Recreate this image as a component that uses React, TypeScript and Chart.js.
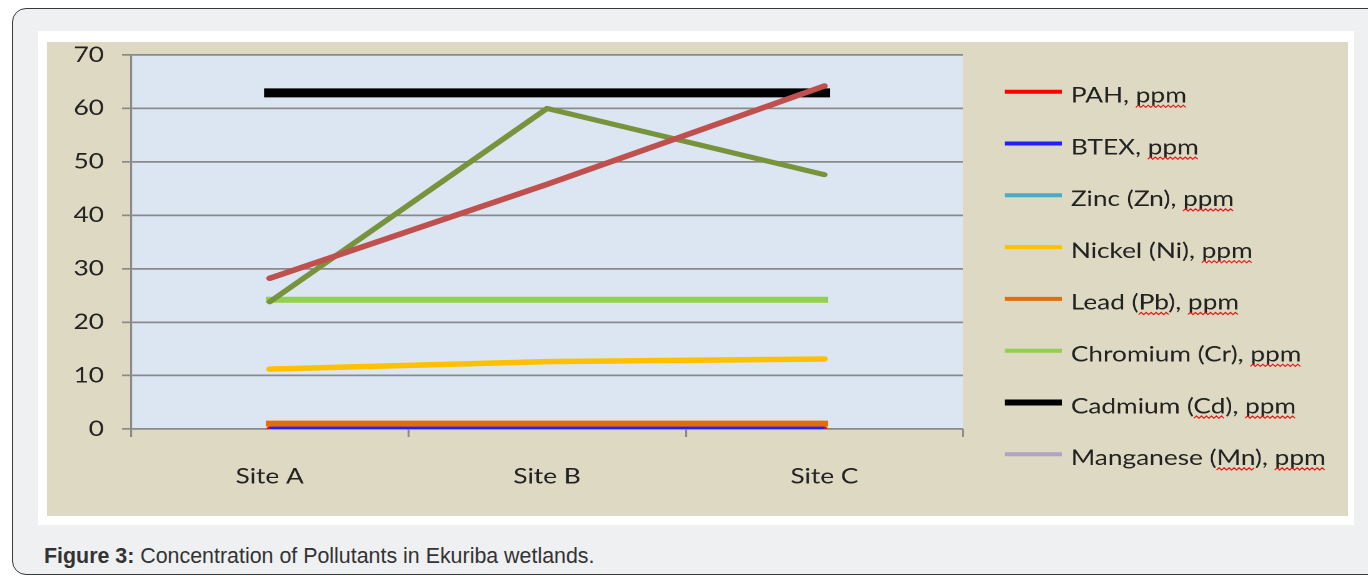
import React, { useEffect, useRef } from 'react';
import { Chart, registerables } from 'chart.js';

Chart.register(...registerables);

// ---------- data ----------
const categories = ['Site A', 'Site B', 'Site C'];
const seriesNames = [
  'PAH, ppm',
  'BTEX, ppm',
  'Zinc (Zn), ppm',
  'Nickel (Ni), ppm',
  'Lead (Pb), ppm',
  'Chromium (Cr), ppm',
  'Cadmium (Cd), ppm',
  'Manganese (Mn), ppm',
];
const pahValues = [0, 0, 0];
const btexValues = [0, 0, 0];
const zincValues = [0, 0, 0];
const nickelValues = [11.2, 12.6, 13.1];
const leadValues = [1.0, 1.0, 1.0];
const chromiumValues = [24.2, 24.2, 24.2];
const cadmiumValues = [62.9, 62.9, 62.9];
const manganeseValues = [0, 0, 0];
// two further series drawn in the plot but not listed in the visible legend
const unlistedSeriesRed = [28.2, 45.8, 64.2];
const unlistedSeriesOlive = [23.8, 60.0, 47.6];

const Y_MIN = 0;
const Y_MAX = 70;
const Y_STEP = 10;

// words flagged by the spell checker in the legend
const spellFlagged = [
  ['ppm'],
  ['ppm'],
  ['ppm'],
  ['ppm'],
  ['Pb', 'ppm'],
  ['ppm'],
  ['Cd', 'ppm'],
  ['Mn', 'ppm'],
];

// ---------- styles ----------
const SX = 1.25; // horizontal stretch of the picture
const BOX_W = 1301;
const BOX_H = 474;
const LOGICAL_W = Math.round(BOX_W / SX);
const FONT = 'Lato';
const FONT_SIZE = 21;
const TXT = '#222222';
const GRID = '#8a8a8a';

const seriesStyles = [
  { color: '#ff0000', width: 5, order: 9, cap: 'round' },
  { color: '#2020ff', width: 5, order: 7, cap: 'butt' },
  { color: '#4bacc6', width: 5, order: 8, cap: 'butt' },
  { color: '#ffc000', width: 5.5, order: 5, cap: 'round' },
  { color: '#e46c0a', width: 6, order: 6, cap: 'square' },
  { color: '#92d050', width: 6, order: 4, cap: 'square' },
  { color: '#000000', width: 9, order: 3, cap: 'square' },
  { color: '#b3a2c7', width: 5, order: 8, cap: 'butt' },
  { color: '#c0504d', width: 5.5, order: 1, cap: 'round' },
  { color: '#77933c', width: 5, order: 2, cap: 'round' },
];

const allValues = [
  pahValues,
  btexValues,
  zincValues,
  nickelValues,
  leadValues,
  chromiumValues,
  cadmiumValues,
  manganeseValues,
  unlistedSeriesRed,
  unlistedSeriesOlive,
];

const chartAreaBg = {
  id: 'chartAreaBg',
  beforeDraw(chart: any) {
    const { ctx, chartArea: a, width, height } = chart;
    ctx.save();
    ctx.fillStyle = '#ddd9c3';
    ctx.fillRect(0, 0, width, height);
    ctx.fillStyle = '#dce6f2';
    ctx.fillRect(a.left, a.top, a.right - a.left, a.bottom - a.top);
    ctx.restore();
  },
};

const sideLegend = {
  id: 'sideLegend',
  afterDraw(chart: any, _args: any, opts: any) {
    const { ctx } = chart;
    ctx.save();
    ctx.font = `${opts.fontSize}px ${FONT}`;
    ctx.textBaseline = 'alphabetic';
    ctx.textAlign = 'left';
    seriesNames.forEach((name, i) => {
      const ds = chart.data.datasets[i];
      const y = opts.top + i * opts.step;
      ctx.strokeStyle = ds.borderColor;
      ctx.lineWidth = ds.borderWidth >= 8 ? 6 : 4;
      ctx.lineCap = 'butt';
      ctx.beginPath();
      ctx.moveTo(opts.lineLeft, y);
      ctx.lineTo(opts.lineRight, y);
      ctx.stroke();
      const baseline = y + opts.baselineOffset;
      ctx.fillStyle = TXT;
      ctx.fillText(name, opts.textLeft, baseline);
      (spellFlagged[i] || []).forEach((word) => {
        const idx = word === 'ppm' ? name.lastIndexOf(word) : name.indexOf(word);
        if (idx < 0) return;
        const x0 = opts.textLeft + ctx.measureText(name.slice(0, idx)).width;
        const x1 = x0 + ctx.measureText(word).width;
        ctx.strokeStyle = '#ee1111';
        ctx.lineWidth = 1;
        ctx.beginPath();
        let k = 0;
        for (let x = x0; x <= x1 + 0.01; x += opts.wave, k++) {
          const yy = baseline + opts.squiggleOffset + (k % 2 ? -1.1 : 1.1);
          if (k === 0) ctx.moveTo(x, yy);
          else ctx.lineTo(x, yy);
        }
        ctx.stroke();
      });
    });
    ctx.restore();
  },
};

export default function App() {
  const ref = useRef<HTMLCanvasElement | null>(null);

  useEffect(() => {
    const canvas = ref.current;
    if (!canvas) return;
    const datasets = allValues.map((vals, i) => {
      const s = seriesStyles[i];
      return {
        label: i < seriesNames.length ? seriesNames[i] : '',
        data: vals,
        borderColor: s.color,
        backgroundColor: s.color,
        borderWidth: s.width,
        borderCapStyle: s.cap,
        borderJoinStyle: 'round',
        pointRadius: 0,
        pointHoverRadius: 0,
        tension: 0,
        fill: false,
        order: s.order,
      };
    });
    const chart = new Chart(canvas, {
      type: 'line',
      data: { labels: categories, datasets: datasets as any },
      options: {
        responsive: false,
        devicePixelRatio: 2,
        animation: false,
        layout: { padding: { top: 0, right: 385 / SX, left: 0, bottom: 0 } },
        plugins: {
          legend: { display: false },
          tooltip: { enabled: false },
          sideLegend: {
            fontSize: FONT_SIZE,
            lineLeft: 958 / SX,
            lineRight: 1015 / SX,
            textLeft: 1024 / SX,
            top: 49.7,
            step: 51.8,
            baselineOffset: 10.8,
            squiggleOffset: 3.8,
            wave: 2.5 / SX,
          },
        } as any,
        scales: {
          x: {
            type: 'category',
            offset: true,
            grid: {
              display: true,
              drawOnChartArea: false,
              offset: true,
              tickLength: 8,
              color: GRID,
              lineWidth: 2 / SX,
            },
            border: { display: false },
            ticks: {
              font: { family: FONT, size: FONT_SIZE },
              color: TXT,
              padding: 27,
              maxRotation: 0,
              autoSkip: false,
            },
            afterFit: (s: any) => {
              s.height = 87;
            },
          },
          y: {
            min: Y_MIN,
            max: Y_MAX,
            ticks: {
              stepSize: Y_STEP,
              font: { family: FONT, size: FONT_SIZE },
              color: TXT,
              padding: 18 / SX,
            },
            grid: { color: GRID, lineWidth: 1.7, tickLength: 9 / SX },
            border: { display: true, color: GRID, width: 2 / SX },
            afterFit: (s: any) => {
              s.width = 84 / SX;
              s.paddingTop = 13;
              s.paddingBottom = 0;
            },
          },
        },
      },
      plugins: [chartAreaBg, sideLegend],
    });
    return () => chart.destroy();
  }, []);

  return (
    <div
      style={{
        position: 'absolute',
        left: 0,
        top: 0,
        width: 1368,
        height: 576,
        overflow: 'hidden',
        background: '#ffffff',
      }}
    >
      <div
        style={{
          position: 'absolute',
          left: 12,
          top: 8,
          width: 1420,
          height: 567,
          boxSizing: 'border-box',
          border: '1.5px solid #3a3a3a',
          borderRadius: 14,
          background: '#eff0f2',
        }}
      />
      <div
        style={{
          position: 'absolute',
          left: 38,
          top: 31,
          width: 1316,
          height: 494,
          background: '#ffffff',
        }}
      />
      <canvas
        ref={ref}
        width={LOGICAL_W}
        height={BOX_H}
        style={{ position: 'absolute', left: 47, top: 42, width: BOX_W, height: BOX_H }}
      />
      <div
        style={{
          position: 'absolute',
          left: 44,
          top: 543,
          lineHeight: '26px',
          fontFamily: '"Liberation Sans", Arial, sans-serif',
          fontSize: 21.4,
          color: '#333333',
          whiteSpace: 'nowrap',
        }}
      >
        <b>Figure 3:</b> Concentration of Pollutants in Ekuriba wetlands.
      </div>
    </div>
  );
}
